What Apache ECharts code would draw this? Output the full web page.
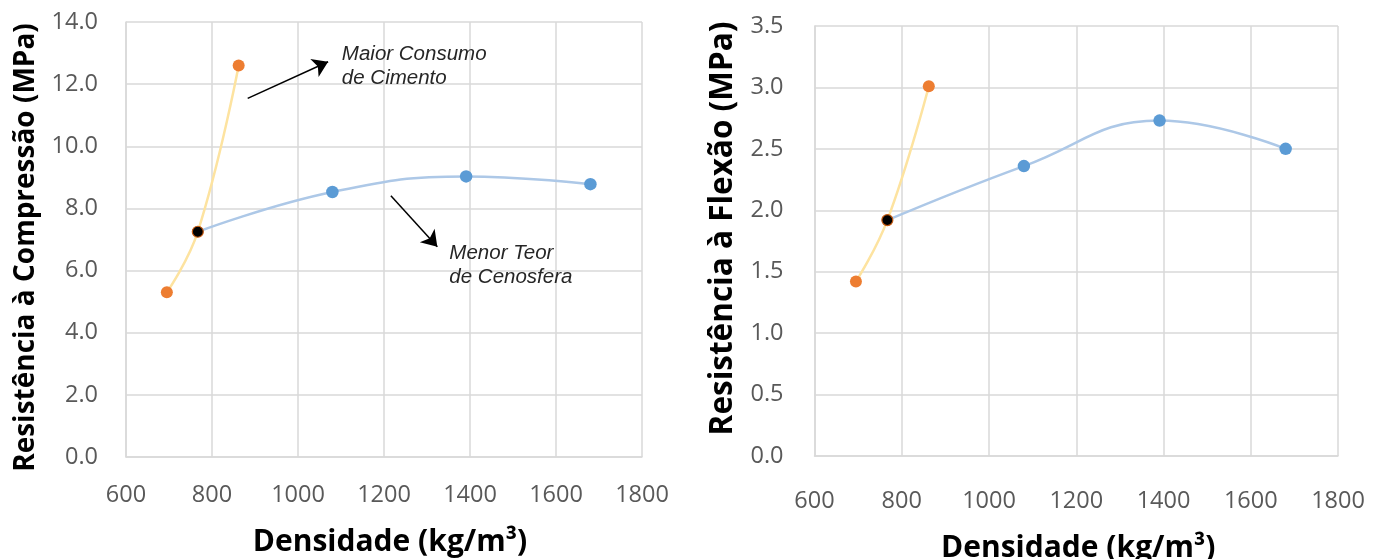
<!DOCTYPE html>
<html>
<head>
<meta charset="utf-8">
<script src="https://cdn.jsdelivr.net/npm/echarts@6/dist/echarts.min.js"></script>
<style>
  html, body { margin: 0; padding: 0; background: #ffffff; }
  #chart { width: 1384px; height: 559px; }
</style>
</head>
<body>
<div id="chart"></div>
<script>
// Density (kg/m³) of each mix
const cimentoDensity = [695, 767, 862];
const cenosferaDensity = [767, 1080, 1391, 1680];

// Compressive strength (MPa)
const compressaoCimento = [5.3, 7.25, 12.6];
const compressaoCenosfera = [7.25, 8.53, 9.03, 8.78];

// Flexural strength (MPa)
const flexaoCimento = [1.42, 1.92, 3.01];
const flexaoCenosfera = [1.92, 2.36, 2.73, 2.50];

// Index of the shared reference mix in each series
const sharedIndexCimento = 1;
const sharedIndexCenosfera = 0;

// Axis texts
const xTitle = 'Densidade (kg/m³)';
const yTitleCompressao = 'Resistência à Compressão (MPa)';
const yTitleFlexao = 'Resistência à Flexão (MPa)';
const noteCimento = 'Maior Consumo\nde Cimento';
const noteCenosfera = 'Menor Teor\nde Cenosfera';

// Annotation anchors (data coordinates of the left panel)
const arrowCimento = [[883, 11.54], [1070, 12.72]];
const arrowCenosfera = [[1216, 8.41], [1324, 6.77]];
const noteCimentoAt = [1102, 13.35];
const noteCenosferaAt = [1352, 6.94];

const ORANGE = '#ed7d31';
const YELLOW_LINE = '#fde3a0';
const BLUE = '#5b9bd5';
const BLUE_LINE = '#adc8e7';
const GRID = '#d9d9d9';
const TICK = '#595959';
const FONT = '"Open Sans", "Noto Sans", sans-serif';

function pairs(xs, ys) { return xs.map((x, i) => [x, ys[i]]); }

function cimentoData(ys) {
  return pairs(cimentoDensity, ys).map((p, i) => i === sharedIndexCimento
    ? { value: p, symbolSize: 11, itemStyle: { color: '#000000', borderColor: '#c55a11', borderWidth: 1.2 } }
    : { value: p });
}
function cenosferaData(ys) {
  return pairs(cenosferaDensity, ys).map((p, i) => i === sharedIndexCenosfera
    ? { value: p, symbol: 'none' }
    : { value: p });
}

function xAxisFor(gridIndex, nameGap, labelMargin, namePadding) {
  return {
    gridIndex, type: 'value', min: 600, max: 1800, interval: 200,
    name: xTitle, nameLocation: 'middle', nameGap,
    nameTextStyle: { fontFamily: FONT, fontWeight: 'bold', fontSize: 30, color: '#000', padding: namePadding },
    axisLine: { show: true, onZero: false, lineStyle: { color: GRID, width: 1.5 } },
    axisTick: { show: false },
    axisLabel: { margin: labelMargin, fontFamily: FONT, fontSize: 23.5, color: TICK,
      formatter: v => String(v) },
    splitLine: { show: true, lineStyle: { color: GRID, width: 1.5 } }
  };
}
function yAxisFor(gridIndex, max, interval, name, nameSize, nameGap, namePadding, labelMargin) {
  return {
    gridIndex, type: 'value', min: 0, max, interval,
    name, nameLocation: 'middle', nameGap,
    nameTextStyle: { fontFamily: FONT, fontWeight: 'bold', fontSize: nameSize, color: '#000', padding: namePadding },
    axisLine: { show: true, lineStyle: { color: GRID, width: 1.5 } },
    axisTick: { show: false },
    axisLabel: { margin: labelMargin, fontFamily: FONT, fontSize: 23.5, color: TICK,
      formatter: v => v.toFixed(1) },
    splitLine: { show: true, lineStyle: { color: GRID, width: 1.5 } }
  };
}

function noteLabel(text) {
  return {
    show: true, position: [0, 0], align: 'left', verticalAlign: 'top',
    formatter: text, fontFamily: '"Liberation Sans", Arial, sans-serif',
    fontStyle: 'italic', fontSize: 20.5, lineHeight: 24, color: '#262626'
  };
}
function arrow(seg) {
  return [{ coord: seg[0] }, { coord: seg[1] }];
}

const chart = echarts.init(document.getElementById('chart'), null, { renderer: 'canvas' });
chart.setOption({
  animation: false,
  backgroundColor: '#ffffff',
  grid: [
    { left: 126, top: 22, width: 516, height: 435, outerBoundsMode: 'none', containLabel: false },
    { left: 814.5, top: 26, width: 523.5, height: 430, outerBoundsMode: 'none', containLabel: false }
  ],
  xAxis: [xAxisFor(0, 70, 26, [0, 0, 0, 12]), xAxisFor(1, 77, 33, [0, 0, 0, 4])],
  yAxis: [
    yAxisFor(0, 14, 2, yTitleCompressao, 28, 86, [0, 16, 0, 0], 28),
    yAxisFor(1, 3.5, 0.5, yTitleFlexao, 31.5, 75, [0, 0, 0, 25], 31)
  ],
  series: [
    {
      name: 'Cenosfera', type: 'line', xAxisIndex: 0, yAxisIndex: 0,
      data: cenosferaData(compressaoCenosfera), smooth: 0.45,
      symbol: 'circle', symbolSize: 12.5,
      lineStyle: { color: BLUE_LINE, width: 2.5 }, itemStyle: { color: BLUE },
      markLine: {
        silent: true, symbol: ['none', 'arrow'], symbolSize: 15,
        lineStyle: { color: '#000000', width: 1.5, type: 'solid' }, label: { show: false },
        data: [arrow(arrowCimento), arrow(arrowCenosfera)]
      },
      markPoint: {
        silent: true, symbol: 'circle', symbolSize: 0,
        data: [
          { coord: noteCimentoAt, label: noteLabel(noteCimento) },
          { coord: noteCenosferaAt, label: noteLabel(noteCenosfera) }
        ]
      }
    },
    {
      name: 'Cimento', type: 'line', xAxisIndex: 0, yAxisIndex: 0,
      data: cimentoData(compressaoCimento), smooth: 0.45,
      symbol: 'circle', symbolSize: 12, z: 3,
      lineStyle: { color: YELLOW_LINE, width: 2.5 }, itemStyle: { color: ORANGE }
    },
    {
      name: 'Cenosfera', type: 'line', xAxisIndex: 1, yAxisIndex: 1,
      data: cenosferaData(flexaoCenosfera), smooth: 0.45,
      symbol: 'circle', symbolSize: 12.5,
      lineStyle: { color: BLUE_LINE, width: 2.5 }, itemStyle: { color: BLUE }
    },
    {
      name: 'Cimento', type: 'line', xAxisIndex: 1, yAxisIndex: 1,
      data: cimentoData(flexaoCimento), smooth: 0.45,
      symbol: 'circle', symbolSize: 12, z: 3,
      lineStyle: { color: YELLOW_LINE, width: 2.5 }, itemStyle: { color: ORANGE }
    }
  ]
});
</script>
</body>
</html>
